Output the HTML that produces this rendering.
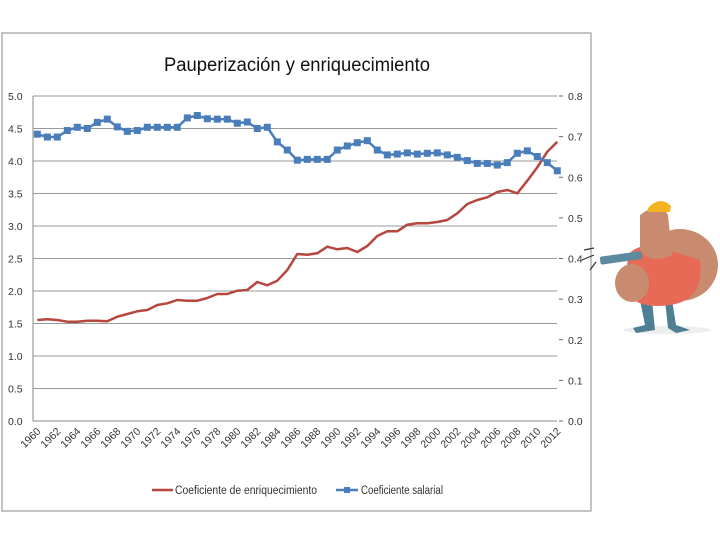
<!DOCTYPE html>
<html><head><meta charset="utf-8"><style>
html,body{margin:0;padding:0;background:#fff;width:720px;height:540px;overflow:hidden}
svg{display:block;font-family:"Liberation Sans",sans-serif}
</style></head><body>
<svg id="chart" width="720" height="540" viewBox="0 0 720 540">
<rect x="2" y="33" width="589" height="478" fill="#fff" stroke="#8a8a8a" stroke-width="1"/>
<text x="297" y="71" text-anchor="middle" font-size="19" fill="#111" textLength="266" lengthAdjust="spacingAndGlyphs">Pauperización y enriquecimiento</text>
<g id="grid"></g>
<g id="axes"></g>
<g id="series"></g>
<g>
<g>
<line x1="152" y1="490" x2="173" y2="490" stroke="#b5473f" stroke-width="2.5"/>
<text x="175" y="494" font-size="11.5" fill="#333" textLength="142" lengthAdjust="spacingAndGlyphs">Coeficiente de enriquecimiento</text>
</g>
<g>
<line x1="336" y1="490" x2="358" y2="490" stroke="#4a7ebb" stroke-width="2.5"/>
<rect x="344" y="487" width="6" height="6" fill="#4a7ebb"/>
<text x="361" y="494" font-size="11.5" fill="#333" textLength="82" lengthAdjust="spacingAndGlyphs">Coeficiente salarial</text>
</g>
</g>
<g>
<ellipse cx="667" cy="330" rx="44" ry="4" fill="#eee"/>
<path d="M640 300 L645 325 L633 328 L636 333 L655 330 L652 300Z" fill="#4f7f92"/>
<path d="M672 300 L676 325 L690 330 L676 333 L668 328 L665 300Z" fill="#4f7f92"/>
<ellipse cx="680" cy="265" rx="38" ry="36" fill="#c98b70"/>
<path d="M628 255 Q640 240 668 250 L700 260 Q705 300 670 305 Q635 310 625 290Z" fill="#e66a55"/>
<ellipse cx="632" cy="283" rx="17" ry="19" fill="#c98b70"/>
<path d="M640 215 Q660 200 668 215 L672 255 Q650 265 640 250Z" fill="#c98b70"/>
<path d="M648 208 Q660 195 671 206 L670 212 L648 212Z" fill="#f4b421"/>
<rect x="600" y="254" width="42" height="8" rx="2" fill="#5d8aa0" transform="rotate(-8 620 258)"/>
<path d="M594 248 L584 250 M594 255 L582 260 M596 262 L590 270" stroke="#333" stroke-width="1.2"/>
</g>
<script>
var years = [];
for (var yr = 1960; yr <= 2012; yr++) years.push(yr);
var enriquecimiento = [1.554,1.565,1.554,1.528,1.528,1.543,1.543,1.534,1.605,1.646,1.688,1.708,1.785,1.811,1.862,1.851,1.851,1.892,1.954,1.954,2.005,2.015,2.138,2.088,2.158,2.323,2.569,2.558,2.580,2.682,2.642,2.662,2.600,2.692,2.846,2.918,2.918,3.020,3.042,3.042,3.062,3.092,3.195,3.338,3.400,3.442,3.523,3.554,3.503,3.697,3.903,4.143,4.297];
var salarial = [0.706,0.699,0.699,0.715,0.723,0.720,0.735,0.743,0.724,0.713,0.715,0.723,0.723,0.723,0.723,0.746,0.752,0.744,0.743,0.743,0.733,0.736,0.720,0.723,0.687,0.667,0.642,0.644,0.644,0.644,0.667,0.677,0.685,0.690,0.667,0.655,0.657,0.660,0.657,0.659,0.660,0.655,0.649,0.641,0.634,0.634,0.630,0.636,0.659,0.665,0.651,0.636,0.616];
var leftTicks = ["0.0","0.5","1.0","1.5","2.0","2.5","3.0","3.5","4.0","4.5","5.0"];
var rightTicks = ["0.0","0.1","0.2","0.3","0.4","0.5","0.6","0.7","0.8"];

var NS = "http://www.w3.org/2000/svg";
var X0 = 37.3, DX = 10, LEFT = 33, RIGHT = 557, TOP = 96, BOT = 421;
function xPos(i){ return X0 + i * DX; }
function yLeft(v){ return BOT - (v / 5) * (BOT - TOP); }
function yRight(v){ return BOT - (v / 0.8) * (BOT - TOP); }
function mk(tag, attrs, parent){
  var e = document.createElementNS(NS, tag);
  for (var k in attrs) e.setAttribute(k, attrs[k]);
  parent.appendChild(e);
  return e;
}
var grid = document.getElementById("grid"), axes = document.getElementById("axes"), ser = document.getElementById("series");

leftTicks.forEach(function(t){
  var y = yLeft(parseFloat(t));
  var gl = mk("line", {x1: LEFT, x2: RIGHT, y1: y, y2: y, stroke: parseFloat(t) === 0 ? "#888" : "#9a9a9a", "stroke-width": 1}, grid);
  
  
  var tx = mk("text", {x: 8, y: y + 4, "font-size": 10.5, fill: "#333"}, axes);
  tx.textContent = t;
  
  
});
rightTicks.forEach(function(t){
  var y = yRight(parseFloat(t));
  var tx = mk("text", {x: 568, y: y + 4, "font-size": 10.5, fill: "#333"}, axes);
  tx.textContent = t;
  
  
  var tk = mk("line", {x1: 559, x2: 563, y1: y, y2: y, stroke: "#666"}, axes);
  
  
});
var ax = mk("line", {x1: LEFT, x2: LEFT, y1: TOP, y2: BOT, stroke: "#888"}, axes);



years.forEach(function(yr, i){
  if (i % 2) return;
  var x = xPos(i) + 4, y = 432;
  var tx = mk("text", {x: x, y: y, "font-size": 10.5, fill: "#333", "text-anchor": "end", transform: "rotate(-45 " + x + " " + y + ")"}, axes);
  tx.textContent = yr;
  
  
});

var rp = enriquecimiento.map(function(v, i){ return xPos(i).toFixed(1) + "," + yLeft(v).toFixed(1); }).join(" ");
var rl = mk("polyline", {points: rp, fill: "none", stroke: "#b5473f", "stroke-width": 2.5, "stroke-linejoin": "round"}, ser);



var bp = salarial.map(function(v, i){ return xPos(i).toFixed(1) + "," + yRight(v).toFixed(1); }).join(" ");
var bl = mk("polyline", {points: bp, fill: "none", stroke: "#4a7ebb", "stroke-width": 2.5, "stroke-linejoin": "round"}, ser);


salarial.forEach(function(v, i){
  var m = mk("rect", {x: xPos(i) - 3.5, y: yRight(v) - 3.5, width: 7, height: 7, fill: "#4a7ebb"}, ser);
  
  
});
</script>
</svg>
</body></html>
